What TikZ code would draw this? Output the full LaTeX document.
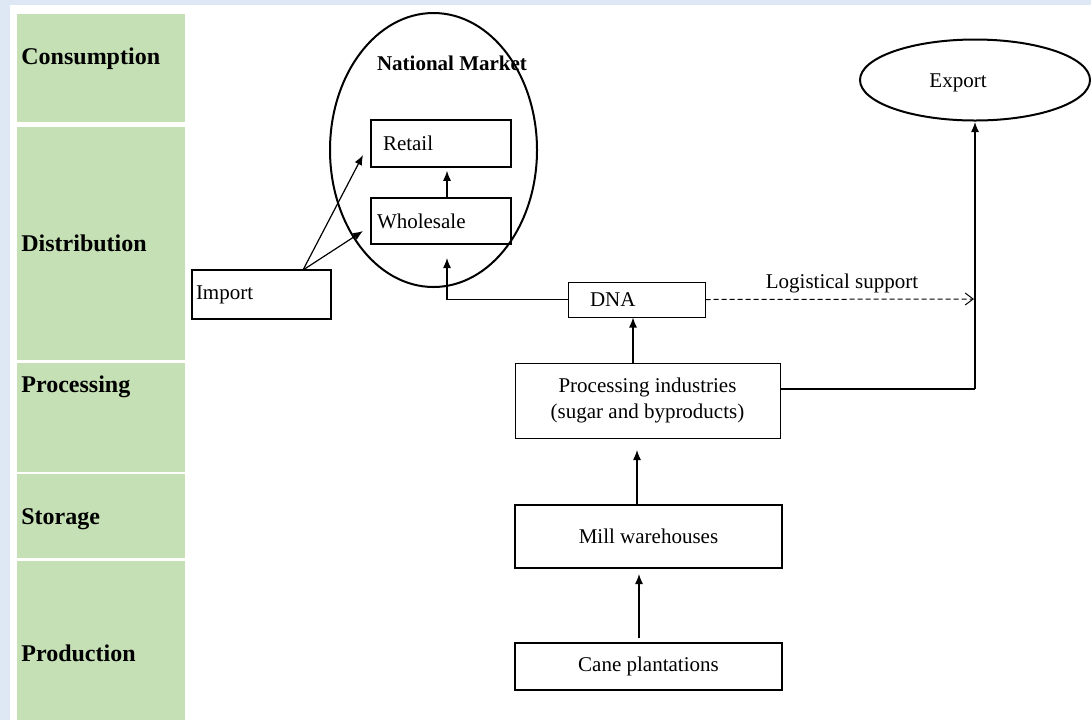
\documentclass[tikz,border=0pt]{standalone}
\usepackage{fontspec}
\setmainfont{Liberation Serif}
\usetikzlibrary{arrows.meta,shapes.geometric}
\definecolor{bgblue}{RGB}{222,232,245}
\definecolor{cellgreen}{RGB}{197,224,180}
\tikzset{
  lane/.style={fill=cellgreen,draw=none},
  lanelbl/.style={anchor=west,font=\fontsize{12}{14}\selectfont\bfseries,inner sep=0pt},
  box/.style={draw,line width=0.75pt,rectangle,inner ysep=0pt,font=\fontsize{10.5}{12.6}\selectfont},
  thinbox/.style={draw,line width=0.5pt,rectangle,inner ysep=0pt,font=\fontsize{10.5}{12.6}\selectfont},
  thickbox/.style={draw,line width=1.1pt,rectangle,inner ysep=0pt,font=\fontsize{10.5}{12.6}\selectfont},
  txt/.style={font=\fontsize{10.5}{12.6}\selectfont,inner sep=0pt},
  arr/.style={line width=0.6pt,-{Latex[length=5pt,width=4pt]}},
  darr/.style={line width=0.5pt,dashed,dash pattern=on 2.5pt off 1.5pt,-{Straight Barb[length=4pt,width=6pt]}},
}
\begin{document}
\begin{tikzpicture}[x=0.5pt,y=-0.5pt]
\useasboundingbox (0,0) rectangle (1091,720);
\fill[bgblue] (0,0) rectangle (1091,720);
\fill[white] (10,5) rectangle (1091,720);
% swim lanes
\fill[lane] (17,14) rectangle (185,122);
\fill[lane] (17,127) rectangle (185,360);
\fill[lane] (17,363) rectangle (185,472);
\fill[lane] (17,474) rectangle (185,558);
\fill[lane] (17,561) rectangle (185,720);
\node[lanelbl] (l1) at (21,59) {Consumption};
\node[lanelbl] (l2) at (21,243) {Distribution};
\node[lanelbl] (l3) at (21,387) {Processing};
\node[lanelbl] (l4) at (21,519) {Storage};
\node[lanelbl] (l5) at (21,653) {Production};
% national market
\node[ellipse,draw,line width=1pt,minimum width=103.5pt,minimum height=137pt,inner sep=0pt] (market) at (433.5,150) {};
\node[txt,font=\fontsize{10.5}{12.6}\selectfont\bfseries] (mkt) at (452,63) {National Market};
\node[box,minimum width=70pt,minimum height=23.5pt,text width=58pt,inner xsep=6pt,align=left] (retail) at (441,143.5) {Retail};
\node[box,minimum width=70pt,minimum height=23pt,text width=64pt,inner xsep=3pt,align=left] (whole) at (441,221) {Wholesale};
\node[box,minimum width=69.5pt,minimum height=24.5pt,text width=65.5pt,inner xsep=2pt,align=left] (import) at (261.5,294.5) {Import};
\node[thinbox,minimum width=68.5pt,minimum height=17.5pt,text width=46.5pt,inner xsep=11pt,align=left] (dna) at (636.5,299.5) {DNA};
\node[thinbox,minimum width=132.5pt,minimum height=37.5pt,align=center] (proc) at (647.5,400.5) {Processing industries\\(sugar and byproducts)};
\node[thickbox,minimum width=133.5pt,minimum height=31.5pt] (mill) at (648.5,536.5) {Mill warehouses};
\node[thickbox,minimum width=133.5pt,minimum height=23.5pt] (cane) at (648.5,666.5) {Cane plantations};
% export
\node[ellipse,draw,line width=1pt,minimum width=115pt,minimum height=40.5pt,inner sep=0pt] (export) at (975,80) {};
\node[txt] (explbl) at (958,83) {Export};
% coordinates
\coordinate (impTop) at (303,270);
\coordinate (toRetail) at (363,155);
\coordinate (toWhole) at (363,231);
\coordinate (whTip) at (447,258);
\coordinate (c633) at (633,0);
\coordinate (dashEnd) at (974,299);
\coordinate (corner) at (975,389);
\coordinate (expTip) at (975,122);
\coordinate (millTip) at (637,450);
\coordinate (millBase) at (637,505);
\coordinate (caneTip) at (639,574);
\coordinate (caneBase) at (639,638);
% connectors
\draw[arr] (impTop) -- (toRetail);
\draw[arr] (impTop) -- (toWhole);
\draw[arr] ([xshift=3pt]whole.north) -- ([xshift=3pt,yshift=-1.5pt]retail.south);
\draw[arr] (dna.west) -| (whTip);
\draw[arr] (proc.north -| c633) -- (dna.south -| c633);
\draw[darr] (dna.east) -- (dashEnd);
\node[txt] (logi) at (842,283) {Logistical support};
\draw[line width=0.6pt] (proc.east |- corner) -- (corner);
\draw[arr] (corner) -- (expTip);
\draw[arr] (millBase) -- (millTip);
\draw[arr] (caneBase) -- (caneTip);
\end{tikzpicture}
\end{document}
